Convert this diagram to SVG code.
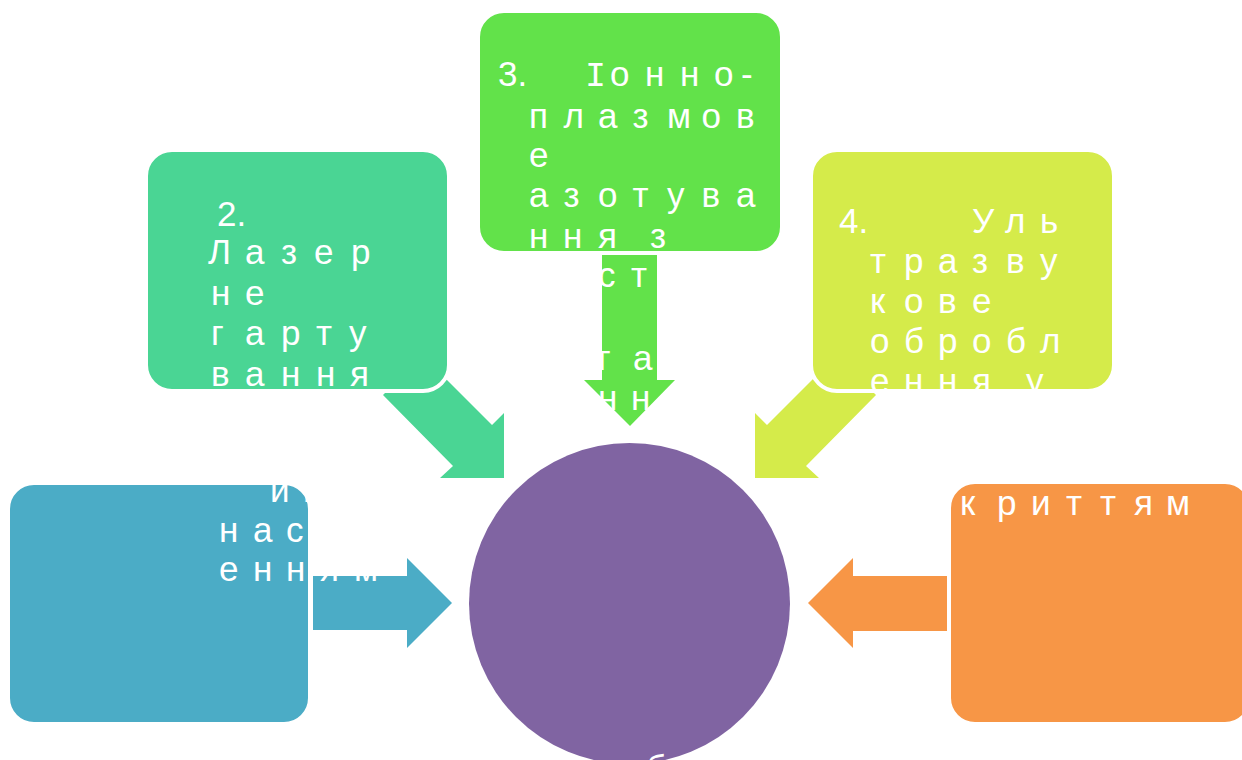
<svg xmlns="http://www.w3.org/2000/svg" width="1242" height="760" viewBox="0 0 1242 760">
<style>
.t{fill:#ffffff;font-family:"Liberation Sans",Arial,sans-serif;font-size:35px}
.m{font-family:"Liberation Mono","Courier New",monospace}
.box{stroke:#ffffff;stroke-width:4}
</style>
<rect width="1242" height="760" fill="#ffffff"/>
<g id="connectors">
<polygon fill="#4BACC6" points="313,576 407,576 407,558 452,603 407,648 407,630 313,630"/>
<polygon fill="#4AD594" points="422.5,355.5 492,425 504,413 504,478 440,478 453,466 383,395"/>
<polygon fill="#62E24A" points="602,240 657,240 657,380 675,380 630,426 584,380 602,380"/>
<polygon fill="#D5EB4A" points="836.5,355.5 767,425 755,413 755,478 819,478 806,466 876,395"/>
<polygon fill="#F79646" points="948,576 853,576 853,558 808,603 853,648 853,631 948,631"/>
</g>
<g id="node-center">
<circle cx="629.5" cy="603.5" r="160.5" fill="#8064A2"/>
<text class="t" x="646" y="780">б</text>
</g>
<g id="node-1">
<rect class="box" x="8" y="483" width="302" height="241" rx="26" fill="#4BACC6"/>
<text class="t" x="270 303" y="502">ин</text>
<text class="t" x="219 253 286" y="542">нас</text>
<text class="t" x="219 253 286 320 354" y="581">енням</text>
</g>
<g id="node-2">
<rect class="box" x="146" y="150" width="303" height="241" rx="26" fill="#4AD594"/>
<text class="t" x="217" y="226">2.</text>
<text class="t" x="208 245 281 314 351" y="264">Лазер</text>
<text class="t" x="211 245" y="305">не</text>
<text class="t" x="211 245 281 316 349" y="345">гарту</text>
<text class="t" x="211 245 281 316 350" y="386">вання</text>
</g>
<g id="node-3">
<rect class="box" x="478" y="11" width="304" height="242" rx="26" fill="#62E24A"/>
<text class="t" x="498" y="86">3.</text>
<text class="t" y="86"><tspan class="m" x="585">І</tspan><tspan x="610">о</tspan><tspan x="645">н</tspan><tspan x="680">н</tspan><tspan x="714">о</tspan><tspan x="741">-</tspan></text>
<text class="t" x="529 563.5 598 632.5 667 701.5 736" y="128">плазмов</text>
<text class="t" x="529" y="167">е</text>
<text class="t" x="529 563.5 598 632.5 667 701.5 736" y="207">азотува</text>
<text class="t" x="529 563 598 650" y="248">нняз</text>
<text class="t" x="598 631" y="287">ст</text>
<text class="t" x="598 633" y="370">га</text>
<text class="t" x="598 631" y="410">нн</text>
</g>
<g id="node-4">
<rect class="box" x="811" y="150" width="303" height="241" rx="26" fill="#D5EB4A"/>
<text class="t" x="839" y="233">4.</text>
<text class="t" x="972 1005 1040" y="233">Уль</text>
<text class="t" x="870 904 938 972 1006 1040" y="273">тразву</text>
<text class="t" x="870 904 938 972" y="313">кове</text>
<text class="t" x="870 904 938 972 1006 1040" y="353">обробл</text>
<text class="t" x="870 904 938 972 1026" y="393">енняу</text>
</g>
<g id="node-5">
<rect class="box" x="949" y="482" width="302" height="242" rx="26" fill="#F79646"/>
<text class="t" x="960 997 1031 1066 1100 1134 1166" y="515">криттям</text>
</g>
</svg>
